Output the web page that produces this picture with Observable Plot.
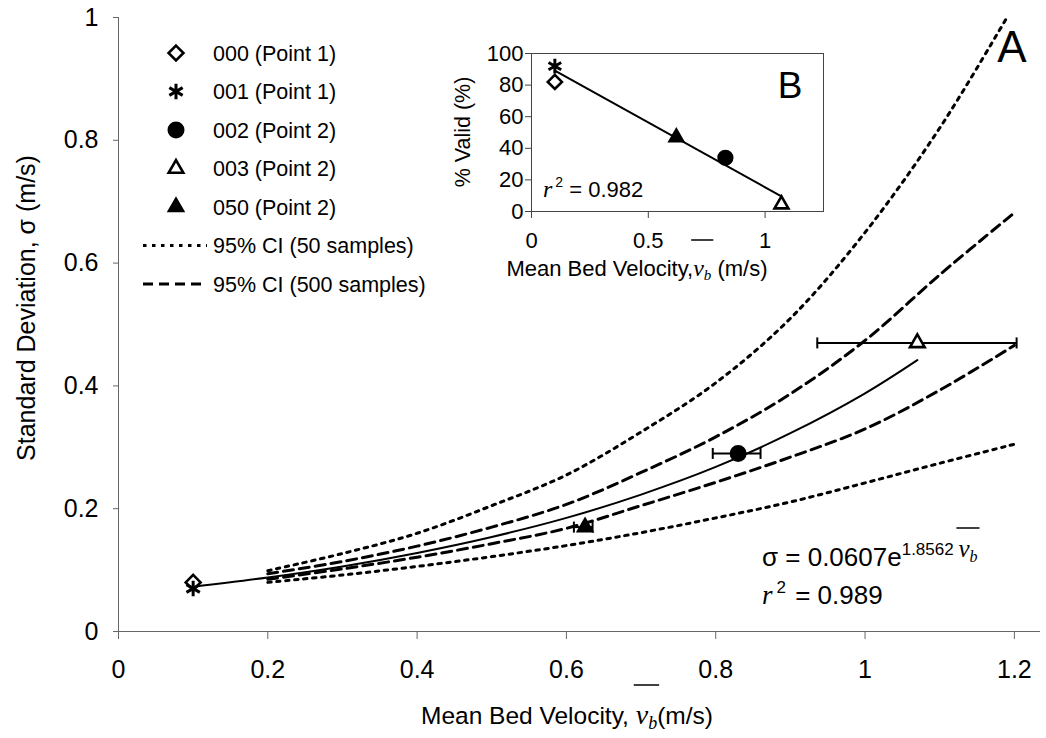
<!DOCTYPE html>
<html><head><meta charset="utf-8">
<script src="https://cdn.jsdelivr.net/npm/d3@7"></script>
<script src="https://cdn.jsdelivr.net/npm/@observablehq/plot@0.6"></script>
<style>
body{margin:0;background:#fff;}
#wrap{position:relative;width:1046px;height:738px;overflow:hidden;}
#inset{position:absolute;left:440px;top:20px;}
</style></head><body><div id="wrap"><div id="main"></div><div id="inset"></div></div>
<script>
// ---------- data ----------
const runs = ["000 (Point 1)", "001 (Point 1)", "002 (Point 2)", "003 (Point 2)", "050 (Point 2)"];
const meanVelocity = [0.1, 0.1, 0.83, 1.07, 0.625];
const stdDev = [0.08, 0.07, 0.29, 0.47, 0.17];
const velocityLow = [null, null, 0.796, 0.936, 0.61];
const velocityHigh = [null, null, 0.86, 1.203, 0.635];

const fitVelocity = [0.1, 0.2, 0.3, 0.4, 0.5, 0.6, 0.7, 0.8, 0.9, 1.0, 1.07];
const fitStdDev = [0.073, 0.088, 0.106, 0.128, 0.154, 0.185, 0.223, 0.268, 0.323, 0.388, 0.442];

const ciVelocity = [0.2, 0.3, 0.4, 0.5, 0.6, 0.7, 0.8, 0.9, 1.0, 1.1, 1.2];
const ci50UpperVelocity = [0.2, 0.3, 0.4, 0.5, 0.6, 0.7, 0.8, 0.9, 1.0, 1.1, 1.19];
const ci50Upper = [0.099, 0.127, 0.160, 0.205, 0.255, 0.325, 0.405, 0.510, 0.650, 0.820, 1.0];
const ci50Lower = [0.080, 0.092, 0.106, 0.122, 0.140, 0.161, 0.185, 0.211, 0.242, 0.274, 0.305];
const ci500Upper = [0.094, 0.114, 0.139, 0.170, 0.207, 0.259, 0.317, 0.387, 0.474, 0.581, 0.682];
const ci500Lower = [0.085, 0.102, 0.121, 0.143, 0.168, 0.205, 0.243, 0.284, 0.330, 0.393, 0.466];

const insetVelocity = [0.1, 0.1, 0.83, 1.07, 0.62];
const percentValid = [82, 92, 34, 4.5, 47];
const regVelocity = [0.1, 1.07];
const regPercent = [89.2, 9.6];

const xTicks = [0, 0.2, 0.4, 0.6, 0.8, 1.0, 1.2];
const yTicks = [0, 0.2, 0.4, 0.6, 0.8, 1.0];
const insetXTicks = [0, 0.5, 1];
const insetYTicks = [0, 20, 40, 60, 80, 100];

// ---------- styles ----------
const SANS = "'Liberation Sans', Arial, sans-serif";
const SERIF = "'Liberation Serif', 'Times New Roman', serif";
const AXIS = "#666";
const markerStyle = {
  "000 (Point 1)": {symbol: "diamond2", d3s: d3.symbolDiamond2, fill: "white", r: 6.7, sw: 2.6},
  "001 (Point 1)": {symbol: "asterisk", d3s: d3.symbolAsterisk, fill: "none", r: 7.3, sw: 3},
  "002 (Point 2)": {symbol: "circle", d3s: d3.symbolCircle, fill: "black", r: 7.5, sw: 2},
  "003 (Point 2)": {symbol: "triangle2", d3s: d3.symbolTriangle2, fill: "white", r: 7, sw: 2.6},
  "050 (Point 2)": {symbol: "triangle", d3s: d3.symbolTriangle, fill: "black", r: 5.6, sw: 2}
};
const fmt = d => String(Math.round(d * 10) / 10);
const rows = (xs, ys) => xs.map((x, i) => ({x, y: ys[i]}));
const points = runs.map((run, i) => ({run, x: meanVelocity[i], y: stdDev[i], lo: velocityLow[i], hi: velocityHigh[i]}));
const errs = points.filter(d => d.lo != null);
const insetPoints = runs.map((run, i) => ({run, x: insetVelocity[i], y: percentValid[i]}));
const cap = {draw(ctx, size) { const h = Math.sqrt(size / Math.PI); ctx.moveTo(0, -h); ctx.lineTo(0, h); }};

const dotMarks = (data, scale) => runs.map(run => {
  const s = markerStyle[run];
  return Plot.dot(data.filter(d => d.run === run), {
    x: "x", y: "y", symbol: s.symbol, fill: s.fill, stroke: "black",
    strokeWidth: s.sw, r: s.r * scale
  });
});

const main = Plot.plot({
  width: 1046, height: 738,
  marginLeft: 118, marginRight: 6, marginTop: 17, marginBottom: 107,
  x: {domain: [0, 1.235]},
  y: {domain: [0, 1]},
  style: {fontFamily: SANS, fontSize: "25px", background: "white", overflow: "visible", color: "black"},
  marks: [
    Plot.axisX({ticks: xTicks, tickSize: 8, tickPadding: 21, tickFormat: fmt, label: null, stroke: AXIS}),
    Plot.axisY({ticks: yTicks, tickSize: 5, tickPadding: 15, tickFormat: fmt, label: null, stroke: AXIS}),
    Plot.ruleX([0], {stroke: AXIS}),
    Plot.ruleY([0], {stroke: AXIS}),
    Plot.line(rows(ci50UpperVelocity, ci50Upper), {x: "x", y: "y", curve: "catmull-rom", strokeWidth: 3, strokeDasharray: "3.5,5.5"}),
    Plot.line(rows(ciVelocity, ci50Lower), {x: "x", y: "y", curve: "catmull-rom", strokeWidth: 3, strokeDasharray: "3.5,5.5"}),
    Plot.line(rows(ciVelocity, ci500Upper), {x: "x", y: "y", curve: "catmull-rom", strokeWidth: 3, strokeDasharray: "10,6"}),
    Plot.line(rows(ciVelocity, ci500Lower), {x: "x", y: "y", curve: "catmull-rom", strokeWidth: 3, strokeDasharray: "10,6"}),
    Plot.line(rows(fitVelocity, fitStdDev), {x: "x", y: "y", curve: "catmull-rom", strokeWidth: 2}),
    Plot.ruleY(errs, {y: "y", x1: "lo", x2: "hi", strokeWidth: 2}),
    Plot.dot(errs, {x: "lo", y: "y", symbol: cap, r: 5.5, stroke: "black", strokeWidth: 2}),
    Plot.dot(errs, {x: "hi", y: "y", symbol: cap, r: 5.5, stroke: "black", strokeWidth: 2}),
    ...dotMarks(points, 1)
  ]
});
document.getElementById("main").appendChild(main);

const inset = Plot.plot({
  width: 400, height: 260,
  marginLeft: 91, marginRight: 17, marginTop: 33, marginBottom: 69,
  x: {domain: [0, 1.25]},
  y: {domain: [0, 100]},
  style: {fontFamily: SANS, fontSize: "22px", background: "transparent", overflow: "visible", color: "black"},
  marks: [
    Plot.frame({stroke: "#444"}),
    Plot.axisX({ticks: insetXTicks, tickSize: 7, tickPadding: 14, tickFormat: fmt, label: null, stroke: "#444"}),
    Plot.axisY({ticks: insetYTicks, tickSize: 6, tickPadding: 2, label: null, stroke: "#444"}),
    Plot.line(rows(regVelocity, regPercent), {x: "x", y: "y", strokeWidth: 2}),
    ...dotMarks(insetPoints, 0.95)
  ]
});
document.getElementById("inset").appendChild(inset);

// ---------- annotations ----------
const svg = d3.select(main);
function rich(x, y, parts, {anchor = "start", size = 22, rotate = false} = {}) {
  const t = svg.append("text").attr("text-anchor", anchor).attr("font-family", SANS)
    .attr("font-size", size).attr("fill", "black");
  if (rotate) t.attr("transform", `translate(${x},${y}) rotate(-90)`);
  else t.attr("x", x).attr("y", y);
  let idx = 0; const ranges = [];
  for (const p of parts) {
    const s = t.append("tspan").text(p.text);
    if (p.serif) s.attr("font-family", SERIF).attr("font-style", "italic");
    if (p.size) s.attr("font-size", p.size);
    if (p.dy) s.attr("dy", p.dy);
    if (p.dx) s.attr("dx", p.dx);
    ranges.push([idx, idx + p.text.length]);
    idx += p.text.length;
  }
  return {node: t.node(), ranges};
}
function overline(r, partIdx, gap, ext) {
  let x0 = Infinity, x1 = -Infinity, y0 = Infinity;
  for (const pi of partIdx) {
    const [a, b] = r.ranges[pi];
    for (let i = a; i < b; i++) {
      const e = r.node.getExtentOfChar(i);
      x0 = Math.min(x0, e.x); x1 = Math.max(x1, e.x + e.width); y0 = Math.min(y0, e.y);
    }
  }
  svg.append("line").attr("x1", x0 - ext).attr("x2", x1 + ext).attr("y1", y0 - gap).attr("y2", y0 - gap)
    .attr("stroke", "black").attr("stroke-width", 1.5);
}

// axis titles
const xl = rich(421, 724, [
  {text: "Mean Bed Velocity, "},
  {text: "v", serif: true, size: 28},
  {text: "b", serif: true, size: 18, dy: 5},
  {text: "(m/s)", dy: -5}
], {anchor: "start", size: 24.5});
overline(xl, [1, 2], 14, 2);
rich(35, 308, [{text: "Standard Deviation, σ (m/s)"}], {anchor: "middle", size: 25, rotate: true});

// legend
runs.forEach((run, i) => {
  const y = 53 + i * 38.5;
  const s = markerStyle[run];
  svg.append("path").attr("transform", `translate(176,${y})`)
    .attr("d", d3.symbol(s.d3s, Math.PI * s.r * s.r)())
    .attr("fill", s.fill).attr("stroke", "black").attr("stroke-width", s.sw);
  svg.append("text").attr("x", 213).attr("y", y).attr("dy", "0.36em").attr("text-anchor", "start")
    .attr("font-family", SANS).attr("font-size", 21.5).text(run);
});
[["95% CI (50 samples)", "3.5,5.5"], ["95% CI (500 samples)", "10,6"]].forEach(([label, dash], j) => {
  const y = 53 + (5 + j) * 38.5;
  svg.append("line").attr("x1", 143).attr("x2", 207).attr("y1", y).attr("y2", y)
    .attr("stroke", "black").attr("stroke-width", 3).attr("stroke-dasharray", dash);
  svg.append("text").attr("x", 213).attr("y", y).attr("dy", "0.36em").attr("text-anchor", "start")
    .attr("font-family", SANS).attr("font-size", 21.5).text(label);
});

// equation
const eq = rich(762, 566, [
  {text: "σ = 0.0607e"},
  {text: "1.8562 ", size: 17, dy: -11},
  {text: "v", serif: true, size: 25, dy: 2},
  {text: "b", serif: true, size: 16, dy: 5}
], {size: 26});
overline(eq, [2, 3], 7, 2);
rich(762, 604, [
  {text: "r", serif: true, size: 27},
  {text: "2", size: 17, dy: -11, dx: 4},
  {text: " = 0.989", dy: 11, dx: 2}
], {size: 26});

// panel letters
svg.append("text").attr("x", 1012).attr("y", 62).attr("text-anchor", "middle")
  .attr("font-family", SANS).attr("font-size", 44).text("A");
svg.append("text").attr("x", 790).attr("y", 98).attr("text-anchor", "middle")
  .attr("font-family", SANS).attr("font-size", 37).text("B");

// inset titles
rich(470, 132, [{text: "% Valid (%)"}], {anchor: "middle", size: 21.5, rotate: true});
const il = rich(637, 276, [
  {text: "Mean Bed Velocity,"},
  {text: "v", serif: true, size: 24},
  {text: "b", serif: true, size: 15, dy: 4},
  {text: " (m/s)", dy: -4}
], {anchor: "middle", size: 22});
overline(il, [1, 2], 15, 2);
rich(543, 197, [
  {text: "r", serif: true, size: 24},
  {text: "2", size: 14, dy: -10, dx: 3},
  {text: " = 0.982", dy: 10}
], {size: 22});
</script></body></html>
